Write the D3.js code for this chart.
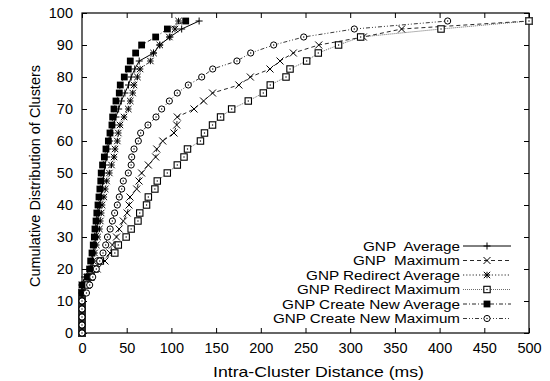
<!DOCTYPE html>
<html>
<head>
<meta charset="utf-8">
<script src="https://cdn.jsdelivr.net/npm/d3@7"></script>
<style>
  html, body { margin: 0; padding: 0; background: #fff; }
  svg text { font-family: "Liberation Sans", Arial, Helvetica, sans-serif; fill: #000; }
</style>
</head>
<body>
<svg id="chart" width="550" height="381"></svg>
<script>
// Cumulative fraction levels (%) shared by every series
const cdfLevels = [0, 2.5, 5, 7.5, 10, 12.5, 15, 17.5, 20, 22.5, 25, 27.5, 30, 32.5, 35, 37.5,
  40, 42.5, 45, 47.5, 50, 52.5, 55, 57.5, 60, 62.5, 65, 67.5, 70, 72.5, 75, 77.5,
  80, 82.5, 85, 87.5, 90, 92.5, 95, 97.5];

// Intra-cluster distance (ms) reached at each level
const gnpAverage = [0, 0, 0, 0, 0, 0, 0, 3, 9, 11, 12.5, 14, 15.5, 16.5, 17.5, 18.5,
  19.8, 21, 22.5, 23.5, 24.5, 26, 27.5, 29, 31, 32.5, 35, 38, 41, 44, 48, 52,
  55, 59, 64, 80, 87, 98.4, 111.5, 131];
const gnpMaximum = [0, 0, 0, 0, 0, 0, 4, 9, 17, 25.7, 31.3, 34, 38.6, 41.5, 46.2, 50.5,
  52.6, 53.7, 61.2, 63.8, 66.7, 74.2, 82.4, 83.6, 90.3, 102.9, 105.9, 106.6, 125.3, 136, 146, 175.5,
  188.3, 210.3, 221.5, 236.4, 264.8, 314.7, 357.5, 500];
const redirectAverage = [0, 0, 0, 0, 0, 0, 0, 5, 11, 12.5, 14, 16, 17.5, 19.5, 20.5, 21.5,
  22.5, 24.5, 26, 27.6, 30.6, 33, 35.8, 37, 39.5, 40.6, 42.5, 47, 51.8, 54, 56.7, 58.2,
  62, 65, 76.5, 80, 87, 97.7, 104, 108];
const redirectMaximum = [0, 0, 0, 0, 0, 0, 6, 10, 14.5, 20.5, 36.7, 40.6, 49.4, 55, 62.6, 64.6,
  72.2, 74.2, 81.5, 84.2, 95.4, 106.6, 114.1, 118, 132.5, 137, 146, 155, 167.4, 186, 202.8, 210.6,
  228.2, 232.7, 251.3, 264.3, 287, 311.7, 401.6, 500];
const createNewAverage = [0, 0, 0, 0, 0, 0, 0, 6.5, 8.5, 9.7, 11.2, 12.6, 13.8, 14.5, 15.7, 16.6,
  17.9, 19, 20, 21, 21.5, 23, 25, 26.8, 29.5, 31.3, 33.5, 34.3, 35.8, 38, 41.7, 42.8,
  47.3, 51.8, 54, 60, 66.7, 82.4, 95.5, 116];
const createNewMaximum = [0, 0, 0, 0, 0, 5, 8.6, 12, 16, 19.8, 23.5, 26.5, 28.5, 31.5, 34, 36.5,
  39.5, 41.7, 44.4, 46.2, 51.8, 55, 55.6, 58.2, 63, 65.6, 73.8, 82.8, 89.1, 97.7, 106.6, 118.9,
  133.9, 146.2, 173.3, 188.7, 214.4, 248, 304.6, 409];

const seriesNames = ["GNP  Average", "GNP  Maximum", "GNP Redirect Average",
  "GNP Redirect Maximum", "GNP Create New Average", "GNP Create New Maximum"];
const seriesValues = [gnpAverage, gnpMaximum, redirectAverage, redirectMaximum, createNewAverage, createNewMaximum];

const xTicks = [0, 50, 100, 150, 200, 250, 300, 350, 400, 450, 500];
const yTicks = [0, 10, 20, 30, 40, 50, 60, 70, 80, 90, 100];

// Line and marker styles per series
const styles = [
  { dash: null, marker: "plus", stroke: "#000", width: 1 },
  { dash: "4,3", marker: "cross", stroke: "#111", width: 0.9 },
  { dash: "1.2,2", marker: "star", stroke: "#111", width: 0.9 },
  { dash: "1,1", marker: "square", stroke: "#444", width: 0.8 },
  { dash: "4,2,1,2", marker: "filled", stroke: "#111", width: 0.9 },
  { dash: "4,2,1,2,1,2", marker: "circle", stroke: "#222", width: 0.9 }
];
// Rendered text widths for the legend entries
const legendWidths = [97, 107, 154, 163, 178, 187];

const margin = { left: 82, right: 21, top: 13, bottom: 48 };
const W = 550, H = 381;
const svg = d3.select("#chart");

const x = d3.scaleLinear().domain([0, 500]).range([margin.left, W - margin.right]);
const y = d3.scaleLinear().domain([0, 100]).range([H - margin.bottom, margin.top]);

function drawMarker(g, type, cx, cy) {
  const s = 3.5;
  if (type === "plus") {
    g.append("path").attr("d", `M${cx - s},${cy}H${cx + s}M${cx},${cy - s}V${cy + s}`)
      .attr("stroke", "#000").attr("stroke-width", 1).attr("fill", "none");
  } else if (type === "cross") {
    g.append("path").attr("d", `M${cx - s},${cy - s}L${cx + s},${cy + s}M${cx - s},${cy + s}L${cx + s},${cy - s}`)
      .attr("stroke", "#000").attr("stroke-width", 1).attr("fill", "none");
  } else if (type === "star") {
    const t = 3.2;
    g.append("path").attr("d", `M${cx - t},${cy}H${cx + t}M${cx},${cy - t}V${cy + t}M${cx - t},${cy - t}L${cx + t},${cy + t}M${cx - t},${cy + t}L${cx + t},${cy - t}`)
      .attr("stroke", "#000").attr("stroke-width", 1).attr("fill", "none");
  } else if (type === "square") {
    g.append("rect").attr("x", cx - 3.2).attr("y", cy - 3.2).attr("width", 6.4).attr("height", 6.4)
      .attr("fill", "#fff").attr("stroke", "#000").attr("stroke-width", 1.1);
    g.append("rect").attr("x", cx - 0.6).attr("y", cy - 0.6).attr("width", 1.2).attr("height", 1.2).attr("fill", "#000");
  } else if (type === "filled") {
    g.append("rect").attr("x", cx - 3.4).attr("y", cy - 3.4).attr("width", 6.8).attr("height", 6.8)
      .attr("fill", "#000");
  } else if (type === "circle") {
    g.append("circle").attr("cx", cx).attr("cy", cy).attr("r", 3.1)
      .attr("fill", "#fff").attr("stroke", "#000").attr("stroke-width", 1);
    g.append("rect").attr("x", cx - 0.6).attr("y", cy - 0.6).attr("width", 1.2).attr("height", 1.2).attr("fill", "#000");
  }
}

// Axes with inward ticks on all four sides
const tick = 5;
svg.append("g").attr("transform", `translate(0,${y(0)})`)
  .call(d3.axisBottom(x).tickValues(xTicks).tickSizeInner(-tick).tickSizeOuter(0).tickPadding(10))
  .call(g => g.select(".domain").remove())
  .call(g => g.selectAll("text").attr("font-size", 14.5));
svg.append("g").attr("transform", `translate(0,${y(100)})`)
  .call(d3.axisTop(x).tickValues(xTicks).tickSizeInner(-tick).tickSizeOuter(0).tickFormat(""))
  .call(g => g.select(".domain").remove());
svg.append("g").attr("transform", `translate(${x(0)},0)`)
  .call(d3.axisLeft(y).tickValues(yTicks).tickSizeInner(-tick).tickSizeOuter(0).tickPadding(9))
  .call(g => g.select(".domain").remove())
  .call(g => g.selectAll("text").attr("font-size", 14.5));
svg.append("g").attr("transform", `translate(${x(500)},0)`)
  .call(d3.axisRight(y).tickValues(yTicks).tickSizeInner(-tick).tickSizeOuter(0).tickFormat(""))
  .call(g => g.select(".domain").remove());

svg.append("rect")
  .attr("x", x(0)).attr("y", y(100))
  .attr("width", x(500) - x(0)).attr("height", y(0) - y(100))
  .attr("fill", "none").attr("stroke", "#000").attr("stroke-width", 1.2);

// Series lines, then markers
const line = d3.line().x(d => x(d[0])).y(d => y(d[1]));
seriesValues.forEach((vals, i) => {
  const pts = vals.map((v, k) => [v, cdfLevels[k]]);
  const st = styles[i];
  svg.append("path").datum(pts)
    .attr("d", line)
    .attr("fill", "none")
    .attr("stroke", st.stroke)
    .attr("stroke-width", st.width)
    .attr("stroke-dasharray", st.dash);
  const mg = svg.append("g");
  pts.forEach(p => drawMarker(mg, st.marker, x(p[0]), y(p[1])));
});

// Legend
const legend = svg.append("g");
const legendTop = 246, legendStep = 14.5;
seriesNames.forEach((name, i) => {
  const ly = legendTop + i * legendStep;
  const st = styles[i];
  legend.append("text")
    .attr("x", 460).attr("y", ly).attr("dy", "0.36em")
    .attr("text-anchor", "end").attr("font-size", 12.8)
    .attr("textLength", legendWidths[i]).attr("lengthAdjust", "spacingAndGlyphs")
    .style("white-space", "pre")
    .text(name);
  legend.append("line")
    .attr("x1", 463).attr("x2", 511).attr("y1", ly).attr("y2", ly)
    .attr("stroke", st.stroke).attr("stroke-width", st.width)
    .attr("stroke-dasharray", st.dash);
  drawMarker(legend, st.marker, 487, ly);
});

// Axis titles
svg.append("text")
  .attr("x", 318.5).attr("y", 377)
  .attr("text-anchor", "middle").attr("font-size", 15)
  .attr("textLength", 211).attr("lengthAdjust", "spacingAndGlyphs")
  .text("Intra-Cluster Distance (ms)");
svg.append("text")
  .attr("transform", `translate(39.5,176) rotate(-90)`)
  .attr("text-anchor", "middle").attr("font-size", 14.5)
  .attr("textLength", 222).attr("lengthAdjust", "spacingAndGlyphs")
  .text("Cumulative Distribution of Clusters");
</script>
</body>
</html>
